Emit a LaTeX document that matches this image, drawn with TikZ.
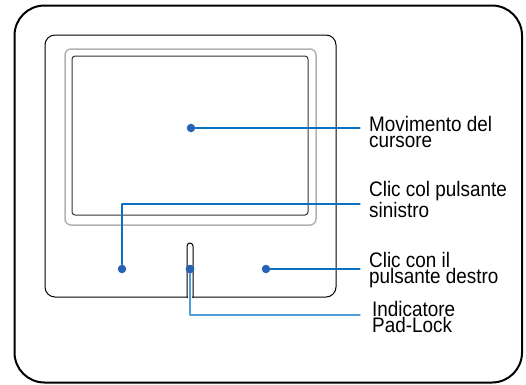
\documentclass[tikz,border=0pt]{standalone}
\usepackage{fontspec}
\newfontfamily\lblfont[FakeStretch=0.9]{Liberation Sans}
\definecolor{wireblue}{RGB}{10,112,196}
\definecolor{lockblue}{RGB}{78,158,220}
\definecolor{dotblue}{RGB}{40,98,178}

\begin{document}
\begin{tikzpicture}[
  x=1pt, y=-1pt,
  line cap=round,
  line join=round,
  wire/.style={draw=wireblue, line width=1.1pt},
  spot/.style={circle, fill=dotblue, inner sep=0pt, minimum size=8.5pt},
  lbl/.style={anchor=west, inner xsep=9pt, inner ysep=0pt, align=left,
    font=\lblfont\fontsize{21}{16}\selectfont}
]
  \useasboundingbox (0,0) rectangle (526,384);

  % frame and pad
  \draw[line width=2pt, rounded corners=30pt] (14.5,5.5) rectangle (522,382.5);
  \draw[line width=1pt, rounded corners=10pt] (45,35) rectangle (336,297);
  \draw[line width=1.5pt, black!30, rounded corners=6pt] (65,49) rectangle (316,225);
  \draw[line width=1pt, black!80, rounded corners=3pt] (72,56) rectangle (308,215);

  % pad-lock indicator
  \fill[white] (187.6,288) rectangle (192.4,299);
  \draw[line width=1pt, rounded corners=3pt] (187,297.5) -- (187,243) -- (193,243) -- (193,297.5);

  \node[spot] (dmove) at (191,128) {};
  \node[spot] (dleft) at (122,269) {};
  \node[spot] (dlock) at (190,269) {};
  \node[spot] (dright) at (266,269) {};

  \coordinate (tmove) at (360,128);
  \coordinate (tleft) at (360,204);
  \coordinate (tright) at (360,269);
  \coordinate (tlock) at (360,315);

  \node[lbl] (lmove) at (360,131.5) {Movimento del\\cursore};
  \node[lbl] (lleft) at (360,199.5) {Clic col pulsante\\sinistro};
  \node[lbl] (lright) at (360,270) {Clic con il\\pulsante destro};
  \node[lbl, inner xsep=12pt] (llock) at (360,316.5) {Indicatore\\Pad-Lock};

  \draw[wire] (dmove) -- (tmove);
  \draw[wire] (dleft) |- (tleft);
  \draw[wire] (dright) -- (tright);
  \draw[wire, draw=lockblue] (dlock) |- (tlock);
  \node[spot] at (dlock) {};
\end{tikzpicture}
\end{document}
